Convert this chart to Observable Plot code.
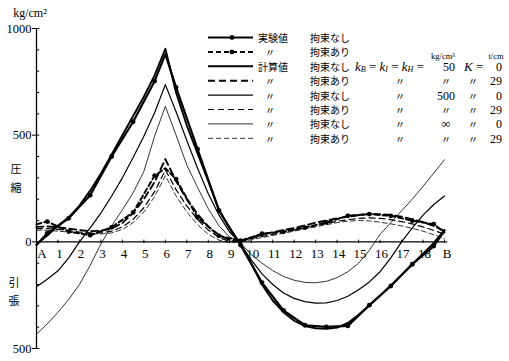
<!DOCTYPE html>
<html><head><meta charset="utf-8">
<script src="https://cdn.jsdelivr.net/npm/d3@7"></script>
<script src="https://cdn.jsdelivr.net/npm/@observablehq/plot@0.6"></script>
<style>body{margin:0;background:#fff}#chart{width:509px;height:361px}</style>
</head><body><div id="chart"></div>
<script>
// ---------- data ----------
const stations = [0,1,2,3,4,5,6,7,8,9,10,11,12,13,14,15,16,17,18,19];
const stationLabels = ["A","1","2","3","4","5","6","7","8","9","10","11","12","13","14","15","16","17","18","B"];

const calcX = [0,0.5,1,1.5,2,2.5,3,3.5,4,4.5,5,5.5,6,6.5,7,7.5,8,8.5,9,9.5,10,10.5,11,11.5,12,12.5,13,13.5,14,14.5,15,15.5,16,16.5,17,17.5,18,18.5,19];
// 計算値 拘束なし (K=0)
const calcK50Free  = [-12,30,75,115,170,240,320,410,500,590,680,780,905,700,545,415,285,150,60,-8,-100,-200,-275,-330,-370,-395,-405,-408,-402,-380,-342,-298,-252,-205,-155,-105,-55,-5,55];
const calcK500Free = [-211,-175,-136,-75,0,65,135,215,300,395,495,605,737,610,475,345,225,125,45,-8,-85,-150,-200,-240,-265,-280,-287,-286,-275,-255,-225,-188,-140,-75,0,65,125,175,215];
const calcKInfFree = [-433,-385,-330,-270,-200,-110,-10,75,150,230,330,495,635,500,360,255,155,75,22,-5,-60,-100,-135,-162,-180,-190,-192,-185,-168,-140,-100,-40,35,90,145,200,260,322,385];
// 計算値 拘束あり (K=29)
const calcK50Restr  = [70,72,68,62,55,50,52,62,88,135,200,280,388,285,200,130,72,32,8,2,20,33,45,55,65,77,90,100,110,118,125,130,130,126,118,105,92,75,50];
const calcK500Restr = [62,62,58,52,46,42,42,50,70,105,160,235,337,245,168,105,55,20,2,2,15,25,35,45,55,65,75,86,96,104,110,112,110,104,95,84,70,54,35];
const calcKInfRestr = [55,54,50,46,42,38,37,42,58,90,140,212,310,215,140,80,35,8,-5,0,10,20,30,40,50,60,70,80,90,97,100,98,92,84,75,63,50,33,15];

// 実験値 (measured at half stations)
const expX      = [0,0.5,1.5,2.5,3.5,4.5,5.5,6,6.5,7.5,8.5,9.5,10.5,11.5,12.5,13.5,14.5,15.5,16.5,17.5,18.5,19];
const expFree   = [-15,40,110,218,400,563,753,880,724,435,146,-15,-191,-321,-391,-399,-394,-297,-207,-105,-20,52];
const expRestr  = [82,95,48,31,68,138,310,345,294,114,28,5,38,47,67,91,122,130,122,99,83,44];

const yMajor = [1000,500,0,-500];
const yMinor = [-500,-400,-300,-200,-100,0,100,200,300,400,500,600,700,800,900,1000];

const legendMethod    = ["実験値","〃","計算値","〃","〃","〃","〃","〃"];
const legendRestraint = ["拘束なし","拘束あり","拘束なし","拘束あり","拘束なし","拘束あり","拘束なし","拘束あり"];
const legendKb        = ["","","","〃","〃","〃","〃","〃"];
const legendKbValue   = ["","","50","〃","500","〃","∞","〃"];
const legendKk        = ["","","","〃","〃","〃","〃","〃"];
const legendKkValue   = ["","","0","29","0","29","0","29"];
const unitKb = "kg/cm³", unitK = "t/cm", unitY = "kg/cm²";
const labelComp = ["圧","縮"], labelTens = ["引","張"];

// ---------- styles (separate from data) ----------
const series = [
  {name:"expFree",  xs:expX,  vs:expFree,        w:2.2, dash:null,  dot:true},
  {name:"expRestr", xs:expX,  vs:expRestr,       w:2.0, dash:"5,3", dot:true},
  {name:"c50",      xs:calcX, vs:calcK50Free,    w:1.9, dash:null,  dot:false},
  {name:"d50",      xs:calcX, vs:calcK50Restr,   w:1.9, dash:"7,4", dot:false},
  {name:"c500",     xs:calcX, vs:calcK500Free,   w:1.2, dash:null,  dot:false},
  {name:"d500",     xs:calcX, vs:calcK500Restr,  w:1.2, dash:"6,4", dot:false},
  {name:"cInf",     xs:calcX, vs:calcKInfFree,   w:0.8, dash:null,  dot:false},
  {name:"dInf",     xs:calcX, vs:calcKInfRestr,  w:0.8, dash:"5,3", dot:false}
];

const serif = "Liberation Serif, DejaVu Serif, serif";
const cjk = "Noto Sans CJK JP, sans-serif";

const marks = [];
marks.push(Plot.ruleX([0], {stroke:"#000", strokeWidth:1.3}));
marks.push(Plot.ruleY([0], {x1:0, x2:19.15, stroke:"#000", strokeWidth:1.2}));
marks.push(Plot.ruleY(yMinor, {x1:0, x2:0.15, stroke:"#000", strokeWidth:1}));
marks.push(Plot.ruleX(stations, {y1:-8, y2:8, stroke:"#000", strokeWidth:1}));
marks.push(Plot.axisY({ticks:yMajor, tickFormat:d=>String(Math.abs(d)), tickSize:4, tickPadding:1, fontSize:12.5, label:null, fontFamily:serif}));
const labelRows = stations.map((s,i)=>({x:s, t:stationLabels[i]}));
marks.push(Plot.text(labelRows.filter(d=>d.x===0), {x:"x", y:()=>0, text:"t", dy:12, dx:5.5, fontSize:13, fontFamily:serif}));
marks.push(Plot.text(labelRows.filter(d=>d.x>0 && d.x<19), {x:"x", y:()=>0, text:"t", dy:12, dx:1.5, fontSize:13, fontFamily:serif}));
marks.push(Plot.text(labelRows.filter(d=>d.x===19), {x:"x", y:()=>0, text:"t", dy:12, dx:2.5, fontSize:13, fontFamily:serif}));

for (const s of series) {
  const rows = s.xs.map((x,i)=>({x, v:s.vs[i]}));
  marks.push(Plot.line(rows, {x:"x", y:"v", stroke:"#000", strokeWidth:s.w, strokeDasharray:s.dash, curve:"linear"}));
  if (s.dot) marks.push(Plot.dot(rows.filter(d=>d.x % 1 === 0.5), {x:"x", y:"v", r:2.4, fill:"#000", stroke:"none"}));
}

const svg = Plot.plot({
  width:509, height:361,
  marginLeft:36, marginRight:65, marginTop:28, marginBottom:13,
  x:{domain:[0,19], axis:null},
  y:{domain:[-500,1000], axis:null},
  style:{background:"#fff", fontFamily:serif, color:"#000"},
  marks
});
document.getElementById("chart").appendChild(svg);

// ---------- annotations & legend ----------
const g = d3.select(svg).append("g").attr("fill","#000").attr("text-anchor","start");
const txt = (x,y,anchor,font,size,s) => g.append("text").attr("x",x).attr("y",y).attr("text-anchor",anchor)
  .attr("dominant-baseline","central").attr("font-family",font).attr("font-size",size).text(s);

txt(30,13,"middle",serif,12,unitY);
labelComp.forEach((c,i)=>txt(16,168+19*i,"middle",cjk,11,c));
labelTens.forEach((c,i)=>txt(14,282+18*i,"middle",cjk,11,c));

const rowY = r => 37.5 + 14.4*r;
series.forEach((s,r)=>{
  const y = rowY(r);
  g.append("line").attr("x1",208).attr("x2",253).attr("y1",y).attr("y2",y)
    .attr("stroke","#000").attr("stroke-width",s.w).attr("stroke-dasharray",s.dash);
  if (s.dot) g.append("circle").attr("cx",232).attr("cy",y).attr("r",2.4);
  const m = legendMethod[r];
  if (m==="〃") txt(270,y,"middle",cjk,10,m); else txt(258,y,"start",cjk,10,m);
  txt(310,y,"start",cjk,10,legendRestraint[r]);
  if (legendKb[r]) txt(400,y,"middle",cjk,10,legendKb[r]);
  const kv = legendKbValue[r];
  if (kv) {
    if (/^[0-9]+$/.test(kv)) txt(455,y+0.5,"end",serif,12,kv);
    else if (kv==="〃") txt(446,y,"middle",cjk,10,kv);
    else txt(446,y,"middle",serif,13,kv);
  }
  if (legendKk[r]) txt(473,y,"middle",cjk,10,legendKk[r]);
  if (legendKkValue[r]) txt(502,y+0.5,"end",serif,12,legendKkValue[r]);
});
// row 3 formula text
{
  const y = rowY(2);
  const t = txt(355,y,"start",serif,13,"");
  const parts = [["k","B"],["k","I"],["k","H"]];
  parts.forEach((p,i)=>{
    t.append("tspan").attr("font-style","italic").text(p[0]);
    t.append("tspan").attr("font-size",8).attr("dy",3).attr("font-style","italic").text(p[1]);
    t.append("tspan").attr("dy",-3).text(i<2 ? " = " : " =");
  });
  const k = txt(464,y,"start",serif,13,"");
  k.append("tspan").attr("font-style","italic").text("K");
  k.append("tspan").text(" =");
}
txt(443,55.5,"middle",serif,8.5,unitKb);
txt(496,55.5,"middle",serif,8.5,unitK);
</script></body></html>
